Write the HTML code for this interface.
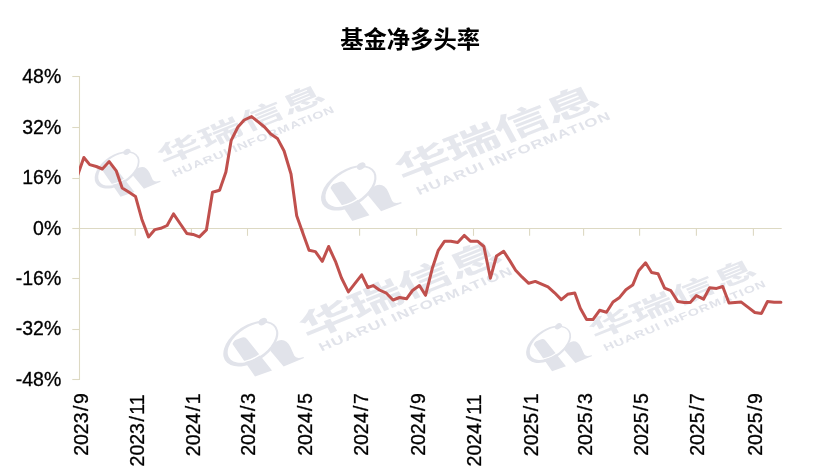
<!DOCTYPE html>
<html lang="zh"><head><meta charset="utf-8"><title>基金净多头率</title>
<style>html,body{margin:0;padding:0;background:#fff}body{width:821px;height:475px;overflow:hidden}svg{display:block}</style></head><body>
<svg width="821" height="475" viewBox="0 0 821 475">
<rect width="821" height="475" fill="#fff"/>
<defs><clipPath id="pc"><rect x="79" y="60" width="720" height="340"/></clipPath></defs>
<g id="wm">
<g transform="matrix(0.9018,-0.3651,0.4321,0.7620,173,173.4)" fill="#E1E3EA" stroke="none">
  <g transform="translate(2.6,-2.9) translate(-48,-17) scale(0.975) translate(48,17)">
  <path d="M-62.6,-34 L-55.3,-33.8 Q-52.4,-33.6 -52.1,-30.5 L-46.8,6.6 L-62.2,5.8 L-65.2,-31 Q-65.4,-34 -62.6,-34 Z"/>
  <path d="M-39.6,-11.7 Q-38,-17.6 -29.5,-18 Q-22.3,-17.8 -22.8,-8 L-23.6,1.5 Q-23.6,5.4 -17.2,5.8 L-17.2,7 L-36.3,7.2 Z"/>
  <g transform="translate(-51.2,-25.2) rotate(-18.2)">
    <ellipse cx="0.6" cy="0" rx="23.0" ry="13.2" fill="none" stroke="#fff" stroke-width="1.3"/>
    <path fill-rule="evenodd" d="M-27.6,0 a27.5,17.0 0 1,0 55,0 a27.5,17.0 0 1,0 -55,0 Z M-23.3,0 a24.5,14.5 0 1,0 49,0 a24.5,14.5 0 1,0 -49,0 Z"/>
  </g>
  <ellipse cx="-32.8" cy="-40.6" rx="4.2" ry="3.0" transform="rotate(-18 -32.8 -40.6)"/>
  </g>
  <g transform="translate(-4.5,-12.6) scale(1.6,1)"><text x="0" y="0" font-family="'Liberation Sans','Noto Sans CJK SC',sans-serif" font-weight="700" font-size="28" letter-spacing="0.5" fill="#E5E7ED">华瑞信息</text></g>
  <g transform="translate(-0.8,4.3) scale(1.25,1)"><text x="0" y="0" font-family="'Liberation Sans',sans-serif" font-weight="700" font-size="11.6" textLength="142.6" lengthAdjust="spacing">HUARUI INFORMATION</text></g>
</g>
<g transform="matrix(1.0847,-0.4196,0.4966,0.9166,416.9,189.5)" fill="#E1E3EA" stroke="none">
  <g transform="translate(0,0)">
  <path d="M-62.6,-34 L-55.3,-33.8 Q-52.4,-33.6 -52.1,-30.5 L-46.8,6.6 L-62.2,5.8 L-65.2,-31 Q-65.4,-34 -62.6,-34 Z"/>
  <path d="M-39.6,-11.7 Q-38,-17.6 -29.5,-18 Q-22.3,-17.8 -22.8,-8 L-23.6,1.5 Q-23.6,5.4 -17.2,5.8 L-17.2,7 L-36.3,7.2 Z"/>
  <g transform="translate(-51.2,-25.2) rotate(-18.2)">
    <ellipse cx="0.6" cy="0" rx="23.0" ry="13.2" fill="none" stroke="#fff" stroke-width="1.3"/>
    <path fill-rule="evenodd" d="M-27.6,0 a27.5,17.0 0 1,0 55,0 a27.5,17.0 0 1,0 -55,0 Z M-23.3,0 a24.5,14.5 0 1,0 49,0 a24.5,14.5 0 1,0 -49,0 Z"/>
  </g>
  <ellipse cx="-32.8" cy="-40.6" rx="4.2" ry="3.0" transform="rotate(-18 -32.8 -40.6)"/>
  </g>
  <g transform="translate(-7.5,-12) scale(1.51,1)"><text x="0" y="0" font-family="'Liberation Sans','Noto Sans CJK SC',sans-serif" font-weight="700" font-size="31" letter-spacing="-0.8" fill="#E5E7ED">华瑞信息</text></g>
  <g transform="translate(-0.8,5.8) rotate(-0.55) scale(1.25,1)"><text x="0" y="0" font-family="'Liberation Sans',sans-serif" font-weight="700" font-size="11.6" textLength="142.6" lengthAdjust="spacing">HUARUI INFORMATION</text></g>
</g>
<g transform="matrix(1.0759,-0.4356,0.5155,0.9091,320.8,346)" fill="#E1E3EA" stroke="none">
  <g transform="translate(-0.6,-2.3)">
  <path d="M-62.6,-34 L-55.3,-33.8 Q-52.4,-33.6 -52.1,-30.5 L-46.8,6.6 L-62.2,5.8 L-65.2,-31 Q-65.4,-34 -62.6,-34 Z"/>
  <path d="M-39.6,-11.7 Q-38,-17.6 -29.5,-18 Q-22.3,-17.8 -22.8,-8 L-23.6,1.5 Q-23.6,5.4 -17.2,5.8 L-17.2,7 L-36.3,7.2 Z"/>
  <g transform="translate(-51.2,-25.2) rotate(-18.2)">
    <ellipse cx="0.6" cy="0" rx="23.0" ry="13.2" fill="none" stroke="#fff" stroke-width="1.3"/>
    <path fill-rule="evenodd" d="M-27.6,0 a27.5,17.0 0 1,0 55,0 a27.5,17.0 0 1,0 -55,0 Z M-23.3,0 a24.5,14.5 0 1,0 49,0 a24.5,14.5 0 1,0 -49,0 Z"/>
  </g>
  <ellipse cx="-32.8" cy="-40.6" rx="4.2" ry="3.0" transform="rotate(-18 -32.8 -40.6)"/>
  </g>
  <g transform="translate(-7.5,-10.5) scale(1.51,1)"><text x="0" y="0" font-family="'Liberation Sans','Noto Sans CJK SC',sans-serif" font-weight="700" font-size="31" letter-spacing="-0.8" fill="#E5E7ED">华瑞信息</text></g>
  <g transform="translate(-1.8,5.2) scale(1.25,1)"><text x="0" y="0" font-family="'Liberation Sans',sans-serif" font-weight="700" font-size="11.6" textLength="142.6" lengthAdjust="spacing">HUARUI INFORMATION</text></g>
</g>
<g transform="matrix(0.9018,-0.3651,0.4321,0.7620,604.5,347.8)" fill="#E1E3EA" stroke="none">
  <g transform="translate(2.6,-2.9) translate(-48,-17) scale(0.975) translate(48,17)">
  <path d="M-62.6,-34 L-55.3,-33.8 Q-52.4,-33.6 -52.1,-30.5 L-46.8,6.6 L-62.2,5.8 L-65.2,-31 Q-65.4,-34 -62.6,-34 Z"/>
  <path d="M-39.6,-11.7 Q-38,-17.6 -29.5,-18 Q-22.3,-17.8 -22.8,-8 L-23.6,1.5 Q-23.6,5.4 -17.2,5.8 L-17.2,7 L-36.3,7.2 Z"/>
  <g transform="translate(-51.2,-25.2) rotate(-18.2)">
    <ellipse cx="0.6" cy="0" rx="23.0" ry="13.2" fill="none" stroke="#fff" stroke-width="1.3"/>
    <path fill-rule="evenodd" d="M-27.6,0 a27.5,17.0 0 1,0 55,0 a27.5,17.0 0 1,0 -55,0 Z M-23.3,0 a24.5,14.5 0 1,0 49,0 a24.5,14.5 0 1,0 -49,0 Z"/>
  </g>
  <ellipse cx="-32.8" cy="-40.6" rx="4.2" ry="3.0" transform="rotate(-18 -32.8 -40.6)"/>
  </g>
  <g transform="translate(-4.5,-12.6) scale(1.6,1)"><text x="0" y="0" font-family="'Liberation Sans','Noto Sans CJK SC',sans-serif" font-weight="700" font-size="28" letter-spacing="0.5" fill="#E5E7ED">华瑞信息</text></g>
  <g transform="translate(-0.8,4.3) scale(1.25,1)"><text x="0" y="0" font-family="'Liberation Sans',sans-serif" font-weight="700" font-size="11.6" textLength="142.6" lengthAdjust="spacing">HUARUI INFORMATION</text></g>
</g>
</g>
<text x="410.1" y="47.5" text-anchor="middle" font-family="'Liberation Sans','Noto Sans CJK SC',sans-serif" font-weight="700" font-size="23.3" fill="#000">基金净多头率</text>
<g stroke="#DDD9C3" stroke-width="1.1" fill="none">
<line x1="79.5" y1="76" x2="79.5" y2="380"/>
<line x1="79.5" y1="228.5" x2="781.7" y2="228.5"/>
<line x1="72.3" y1="76.5" x2="79.5" y2="76.5"/>
<line x1="72.3" y1="127.5" x2="79.5" y2="127.5"/>
<line x1="72.3" y1="178.5" x2="79.5" y2="178.5"/>
<line x1="72.3" y1="228.5" x2="79.5" y2="228.5"/>
<line x1="72.3" y1="278.5" x2="79.5" y2="278.5"/>
<line x1="72.3" y1="329.5" x2="79.5" y2="329.5"/>
<line x1="72.3" y1="379.5" x2="79.5" y2="379.5"/>
<line x1="79.5" y1="228.5" x2="79.5" y2="235.8"/>
<line x1="135.2" y1="228.5" x2="135.2" y2="235.8"/>
<line x1="191.4" y1="228.5" x2="191.4" y2="235.8"/>
<line x1="247.5" y1="228.5" x2="247.5" y2="235.8"/>
<line x1="303.6" y1="228.5" x2="303.6" y2="235.8"/>
<line x1="359.6" y1="228.5" x2="359.6" y2="235.8"/>
<line x1="416.6" y1="228.5" x2="416.6" y2="235.8"/>
<line x1="473.5" y1="228.5" x2="473.5" y2="235.8"/>
<line x1="529.6" y1="228.5" x2="529.6" y2="235.8"/>
<line x1="583.6" y1="228.5" x2="583.6" y2="235.8"/>
<line x1="639.6" y1="228.5" x2="639.6" y2="235.8"/>
<line x1="696.4" y1="228.5" x2="696.4" y2="235.8"/>
<line x1="753.4" y1="228.5" x2="753.4" y2="235.8"/>
</g>
<g font-family="'Liberation Sans',sans-serif" font-size="19.5" fill="#000" stroke="#000" stroke-width="0.3" text-anchor="end">
<text x="61.3" y="83.30">48%</text>
<text x="61.3" y="133.72">32%</text>
<text x="61.3" y="184.14">16%</text>
<text x="61.3" y="234.56">0%</text>
<text x="61.3" y="284.98">-16%</text>
<text x="61.3" y="335.40">-32%</text>
<text x="61.3" y="385.82">-48%</text>
</g>
<g font-family="'Liberation Sans',sans-serif" font-size="19.5" fill="#000" stroke="#000" stroke-width="0.3" text-anchor="end">
<text transform="translate(87.8,393.2) rotate(-90)">2023<tspan dx="1.5">/</tspan><tspan dx="1.5">9</tspan></text>
<text transform="translate(144.2,394.4) rotate(-90)">2023<tspan dx="1.5">/</tspan><tspan dx="1.5">11</tspan></text>
<text transform="translate(199.7,393.5) rotate(-90)">2024<tspan dx="1.5">/</tspan><tspan dx="1.5">1</tspan></text>
<text transform="translate(254.9,393.2) rotate(-90)">2024<tspan dx="1.5">/</tspan><tspan dx="1.5">3</tspan></text>
<text transform="translate(311.9,393.2) rotate(-90)">2024<tspan dx="1.5">/</tspan><tspan dx="1.5">5</tspan></text>
<text transform="translate(367.9,393.2) rotate(-90)">2024<tspan dx="1.5">/</tspan><tspan dx="1.5">7</tspan></text>
<text transform="translate(424.9,393.2) rotate(-90)">2024<tspan dx="1.5">/</tspan><tspan dx="1.5">9</tspan></text>
<text transform="translate(481.2,394.4) rotate(-90)">2024<tspan dx="1.5">/</tspan><tspan dx="1.5">11</tspan></text>
<text transform="translate(537.9,393.5) rotate(-90)">2025<tspan dx="1.5">/</tspan><tspan dx="1.5">1</tspan></text>
<text transform="translate(591.9,393.2) rotate(-90)">2025<tspan dx="1.5">/</tspan><tspan dx="1.5">3</tspan></text>
<text transform="translate(647.9,393.2) rotate(-90)">2025<tspan dx="1.5">/</tspan><tspan dx="1.5">5</tspan></text>
<text transform="translate(704.2,393.2) rotate(-90)">2025<tspan dx="1.5">/</tspan><tspan dx="1.5">7</tspan></text>
<text transform="translate(761.7,393.2) rotate(-90)">2025<tspan dx="1.5">/</tspan><tspan dx="1.5">9</tspan></text>
</g>
<path d="M77.4,176 L83.85,157.5 L89.7,164.6 L96.3,166.5 L102.3,169 L109.2,161.6 L116.3,170.9 L122.2,188 L128.7,192 L135.5,196.4 L141.8,219.2 L148.5,236.9 L154.9,229.6 L160.8,228.3 L167.1,225.5 L173.5,213.9 L180.4,224 L186.8,233.4 L193.1,234.4 L199.4,236.9 L206.4,229.9 L212.5,192.2 L219.6,190.3 L225.9,172 L231.2,140.3 L237.9,127 L244.2,120 L251.6,116.6 L258.2,121.9 L264.5,127 L270.8,134 L277.4,138.4 L284.1,151 L291,174 L296.7,215.8 L302.8,233.1 L309.05,250.3 L315.4,251.6 L322.3,261.3 L328.6,246.5 L335.8,262.2 L341.5,278 L348.4,291.9 L355,283.4 L361.7,274.8 L367.8,287.5 L373.1,285.6 L379.4,290 L386.4,293.2 L393,300 L399.6,297.5 L406.5,298.8 L412.5,290.5 L419.4,285.5 L425.5,295.3 L432.5,267.7 L438.3,250.3 L444.6,241.2 L450.9,241.2 L457.7,242.5 L464.2,235.4 L470.3,241.2 L477.5,241.2 L483.9,246.5 L490.4,278.2 L496.5,256 L503.7,251.3 L509.6,260.4 L515.6,270.2 L522.2,277.2 L528.7,283.3 L535.3,281.4 L541.6,284.2 L548,286.9 L554.6,292.8 L561.3,299.6 L567.6,294.3 L574.8,293 L580.3,308.2 L586.6,319.6 L592.9,319.6 L599.6,310.3 L606.5,312.2 L613,302 L619.6,297.4 L625.9,289.8 L632.7,285.1 L638.6,270.8 L645.6,262.8 L651.6,272.5 L658,273.7 L664.6,288.2 L670.9,290.7 L677.8,301.6 L684.2,302.5 L690.3,302.4 L696.4,295.6 L703.5,299.2 L709.6,287.8 L716.6,288.4 L722.7,286.5 L729,303 L735,302.5 L741.3,302.1 L748.2,307.4 L754.8,312.5 L761.5,313.4 L767.5,301.5 L774.2,302.3 L780.9,302.3" fill="none" stroke="#C0504D" stroke-width="3" stroke-linejoin="round" stroke-linecap="round" clip-path="url(#pc)"/>
</svg></body></html>
